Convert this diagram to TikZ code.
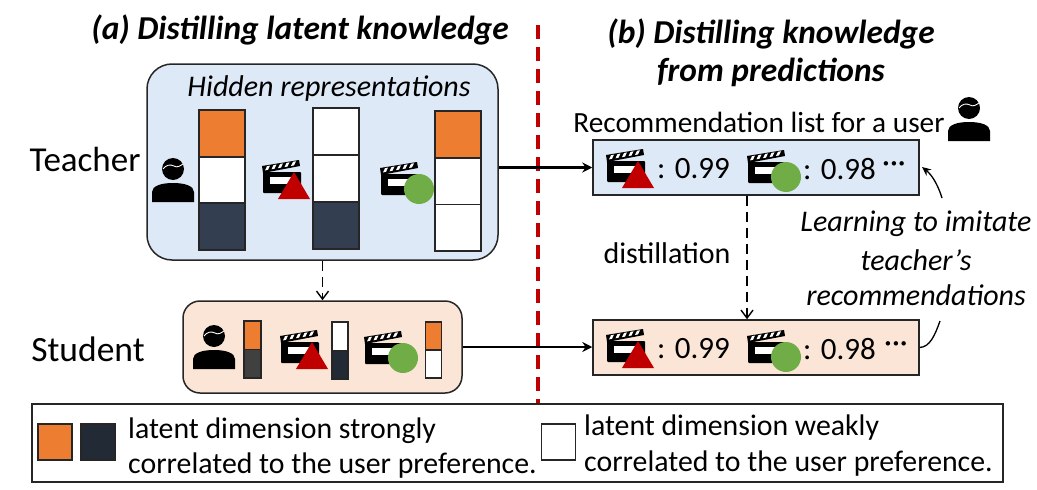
\documentclass[tikz,border=0pt]{standalone}
\usepackage{fontspec}
\setmainfont{Carlito}
\usetikzlibrary{arrows.meta}
\definecolor{tblue}{HTML}{DDE9F6}
\definecolor{speach}{HTML}{FBE5D6}
\definecolor{barorange}{HTML}{ED7D31}
\definecolor{bardark}{HTML}{333F50}
\definecolor{bardeep}{HTML}{222B35}
\definecolor{bargray}{HTML}{404040}
\definecolor{mgreen}{HTML}{70AD47}
\definecolor{mred}{HTML}{C00000}
\newcommand{\fs}[1]{\fontsize{#1}{#1}\selectfont}
\tikzset{
  panel/.style={draw=black!85,line width=1.5pt,inner sep=0pt},
  cell/.style={draw=black!85,line width=1.6pt,inner sep=0pt,minimum width=#1},
  cell/.default=46,
  swatch/.style={draw=black!85,line width=1.5pt,inner sep=0pt,minimum width=34,minimum height=36},
  txt/.style={inner sep=0pt,font=\fs{29.3}},
  score/.style={inner sep=0pt,font=\fs{31},anchor=west},
  ital/.style={inner sep=0pt,font=\fs{30}\itshape,align=center},
  head/.style={inner sep=0pt,font=\fs{33.4}\bfseries\itshape,align=center},
  keytxt/.style={inner sep=0pt,font=\fs{29.8},anchor=west},
  solidarrow/.style={line width=2.4pt,-{Stealth[length=10pt,width=10pt]}},
  dasharrow/.style={line width=1.4pt,dash pattern=on 10pt off 6pt,-{Straight Barb[length=8pt,width=12pt,line width=1.4pt]}},
  pics/user/.style={code={
    \fill (0,-14) circle (11);
    \fill (-21,19) -- (-21,9) .. controls (-21,3) and (-12,0) .. (0,0)
      .. controls (12,0) and (21,3) .. (21,9) -- (21,19) -- cycle;
    \draw[white,line width=0.9pt] (-10,-14) .. controls (-7,-18) and (-3,-19) .. (1,-17)
      .. controls (4,-15) and (7,-17) .. (10,-19);
  }},
  pics/clapper/.style={code={
    \fill (0,6) -- (37,0) -- (38,6) -- (1,13) -- cycle;
    \foreach \k in {0,1,2,3,4}
      \fill[white] ({5+6.5*\k},{6.2-1.1*\k}) -- ({8+6.5*\k},{5.6-1.1*\k}) -- ({6+6.5*\k},{9.8-1.1*\k}) -- ({3+6.5*\k},{10.4-1.1*\k}) -- cycle;
    \fill[rounded corners=1pt] (1,12) rectangle (39,33);
    \fill[white] (8,17) rectangle (31,24);
  }},
  pics/triangled/.style={code={
    \pic at (-32,-12) {clapper};
    \fill[mred] (0,0) -- (16,27) -- (-16,27) -- cycle;
  }},
  pics/circled/.style={code={
    \pic at (-39,-27) {clapper};
    \fill[mgreen] (0,0) circle (15);
  }},
}
\begin{document}
\begin{tikzpicture}[x=1pt,y=-1pt]
  \useasboundingbox (0,0) rectangle (1037,490);
  %
  % titles
  \node[head] (titlea) at (300,30) {(a) Distilling latent knowledge};
  \node[head,text depth=0pt] (titleb) at (771,50) {(b) Distilling knowledge\\[5pt]from predictions};
  \coordinate (redtop) at (538,25);
  \coordinate (redbot) at (538,405);
  \draw[mred,line width=3.5pt,dash pattern=on 14pt off 8pt] (redtop) -- (redbot);
  %
  % teacher panel
  \node[panel,fill=tblue,rounded corners=25pt,minimum width=351,minimum height=196] (teacher) at (322.5,162) {};
  \node[ital] (hidden) at (329,88) {Hidden representations};
  \node[inner sep=0pt,font=\fs{35}] (teacherlabel) at (85,159) {Teacher};
  \pic at (173,183) {user};
  \node[cell,fill=barorange,minimum height=47] (ta1) at (222,133.5) {};
  \node[cell,fill=white,minimum height=46] (ta2) at (222,180) {};
  \node[cell,fill=bardark,minimum height=47] (ta3) at (222,226.5) {};
  \pic at (294,172) {triangled};
  \node[cell,fill=white,minimum height=47] (tb1) at (336,131.5) {};
  \node[cell,fill=white,minimum height=47] (tb2) at (336,178.5) {};
  \node[cell,fill=bardark,minimum height=47] (tb3) at (336,225.5) {};
  \pic at (419,189) {circled};
  \node[cell,fill=barorange,minimum height=47] (tc1) at (458,134.5) {};
  \node[cell,fill=white,minimum height=46.5] (tc2) at (458,181.2) {};
  \node[cell,fill=white,minimum height=46.5] (tc3) at (458,227.7) {};
  %
  % student panel
  \node[panel,fill=speach,rounded corners=17pt,minimum width=279,minimum height=92] (student) at (322.5,347) {};
  \node[inner sep=0pt,font=\fs{35.5}] (studentlabel) at (88,349) {Student};
  \pic at (214,350) {user};
  \node[cell=17,fill=barorange,minimum height=28.5] (sa1) at (252.5,335.2) {};
  \node[cell=17,fill=bargray,minimum height=28.5] (sa2) at (252.5,363.8) {};
  \pic at (312,342) {triangled};
  \node[cell=16,fill=white,minimum height=29] (sb1) at (340,336.5) {};
  \node[cell=16,fill=bardeep,minimum height=28] (sb2) at (340,365) {};
  \pic at (403,358) {circled};
  \node[cell=16,fill=barorange,minimum height=28] (sc1) at (433.5,336) {};
  \node[cell=16,fill=white,minimum height=28] (sc2) at (433.5,364) {};
  %
  % recommendation lists
  \node[txt] (reclabel) at (759,122) {Recommendation list for a user};
  \pic at (969,122) {user};
  \node[panel,fill=tblue,minimum width=326,minimum height=55] (listt) at (756,167.5) {};
  \pic at (638,161) {triangled};
  \node[score] (scoreta) at (657,169) {: 0.99};
  \pic at (786,177) {circled};
  \node[score] (scoretb) at (803,169) {: 0.98};
  \node[score] (dotst) at (882,167) {···};
  %
  \node[panel,fill=speach,minimum width=326,minimum height=55] (lists) at (756,347.5) {};
  \pic at (638,341) {triangled};
  \node[score] (scoresa) at (657,349) {: 0.99};
  \pic at (786,357) {circled};
  \node[score] (scoresb) at (803,349) {: 0.98};
  \node[score] (dotss) at (884,347) {···};
  %
  \node[inner sep=0pt,font=\fs{30}] (distil) at (667,253) {distillation};
  \node[ital] (learn1) at (916,224) {Learning to imitate};
  \node[ital] (learn2) at (916,260) {teacher’s};
  \node[ital] (learn3) at (916,295) {recommendations};
  %
  % connectors
  \draw[solidarrow] (teacher.east |- listt.west) -- (listt.west);
  \draw[solidarrow] (student.east) -- (student.east -| lists.west);
  \draw[dasharrow] (teacher.south) -- (student.north);
  \draw[dasharrow] (listt.south -| 747,0) -- (lists.north -| 747,0);
  \coordinate (curvetop) at (942,198);
  \coordinate (curvetip) at (922,167);
  \coordinate (curvelow) at (940,321);
  \draw[line width=1.3pt,-{Stealth[length=9pt,width=8pt]}] (curvetop) .. controls (938,185) and (932,175) .. (curvetip);
  \draw[line width=1.3pt] (lists.east) .. controls (930,347) and (935,335) .. (curvelow);
  %
  % legend
  \node[panel,minimum width=971,minimum height=78] (legend) at (517.5,443) {};
  \node[swatch,fill=barorange] (keyorange) at (55,442) {};
  \node[swatch,fill=bardeep] (keydark) at (98,442) {};
  \node[keytxt] (keya1) at (128,431) {latent dimension strongly};
  \node[keytxt] (keya2) at (128,466) {correlated to the user preference.};
  \node[swatch,fill=white] (keywhite) at (558.5,442) {};
  \node[keytxt] (keyb1) at (584,428) {latent dimension weakly};
  \node[keytxt] (keyb2) at (584,464) {correlated to the user preference.};
\end{tikzpicture}
\end{document}
